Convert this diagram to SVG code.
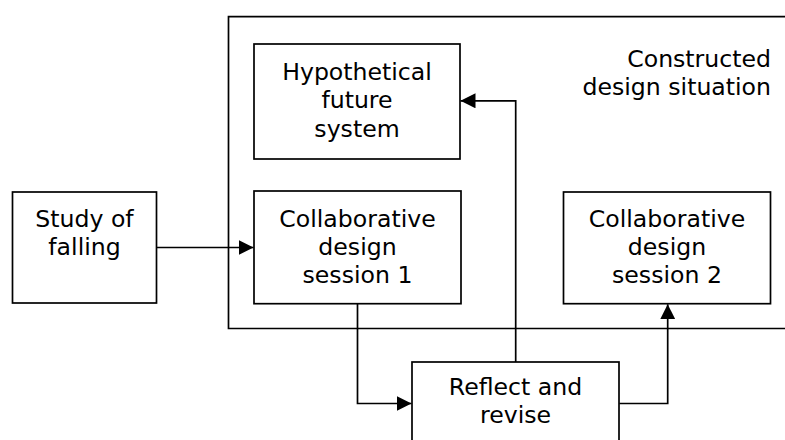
<svg xmlns="http://www.w3.org/2000/svg" width="785" height="440" viewBox="0 0 785 440">
<style>
.box{fill:#fff;stroke:#000;stroke-width:1.7}
.lbl{font-family:"DejaVu Sans",Verdana,sans-serif;font-size:23.6px;fill:#000;text-anchor:middle}
.con{fill:none;stroke:#000;stroke-width:1.7}
</style>
<defs>
<marker id="arr" markerWidth="15" markerHeight="15" viewBox="0 0 15 15" refX="15" refY="7.5" orient="auto" markerUnits="userSpaceOnUse">
<path d="M0,0 L15,7.5 L0,15 Z" fill="#000"/>
</marker>
</defs>
<g id="container">
<path class="con" d="M790,16.7 H228.5 V328.5 H790"/>
<text class="lbl" style="text-anchor:end" x="771" y="66.5">Constructed</text>
<text class="lbl" style="text-anchor:end" x="771" y="95">design situation</text>
</g>
<g id="connectors">
<path class="con" d="M156.7,247.5 H253.5" marker-end="url(#arr)"/>
<path class="con" d="M357.5,303.7 V403.5 H411.5" marker-end="url(#arr)"/>
<path class="con" d="M515.7,362 V100.8 H460.5" marker-end="url(#arr)"/>
<path class="con" d="M619.3,403.5 H667.7 V304.2" marker-end="url(#arr)"/>
</g>
<g id="hypothetical">
<rect class="box" x="254" y="44" width="206" height="115"/>
<text class="lbl" x="357" y="79.5">Hypothetical</text>
<text class="lbl" x="357" y="108">future</text>
<text class="lbl" x="357" y="136.7">system</text>
</g>
<g id="study">
<rect class="box" x="12.5" y="192" width="144" height="111"/>
<text class="lbl" x="84.5" y="226.7">Study of</text>
<text class="lbl" x="84.5" y="255">falling</text>
</g>
<g id="session1">
<rect class="box" x="254" y="191" width="207" height="112.7"/>
<text class="lbl" x="357.5" y="226.7">Collaborative</text>
<text class="lbl" x="357.5" y="255">design</text>
<text class="lbl" x="357.5" y="283.3">session 1</text>
</g>
<g id="session2">
<rect class="box" x="563.5" y="192" width="207" height="111.7"/>
<text class="lbl" x="667" y="226.7">Collaborative</text>
<text class="lbl" x="667" y="255">design</text>
<text class="lbl" x="667" y="283.3">session 2</text>
</g>
<g id="reflect">
<rect class="box" x="412" y="362" width="207" height="100"/>
<text class="lbl" x="515.5" y="395">Reflect and</text>
<text class="lbl" x="515.5" y="423.3">revise</text>
</g>
</svg>
